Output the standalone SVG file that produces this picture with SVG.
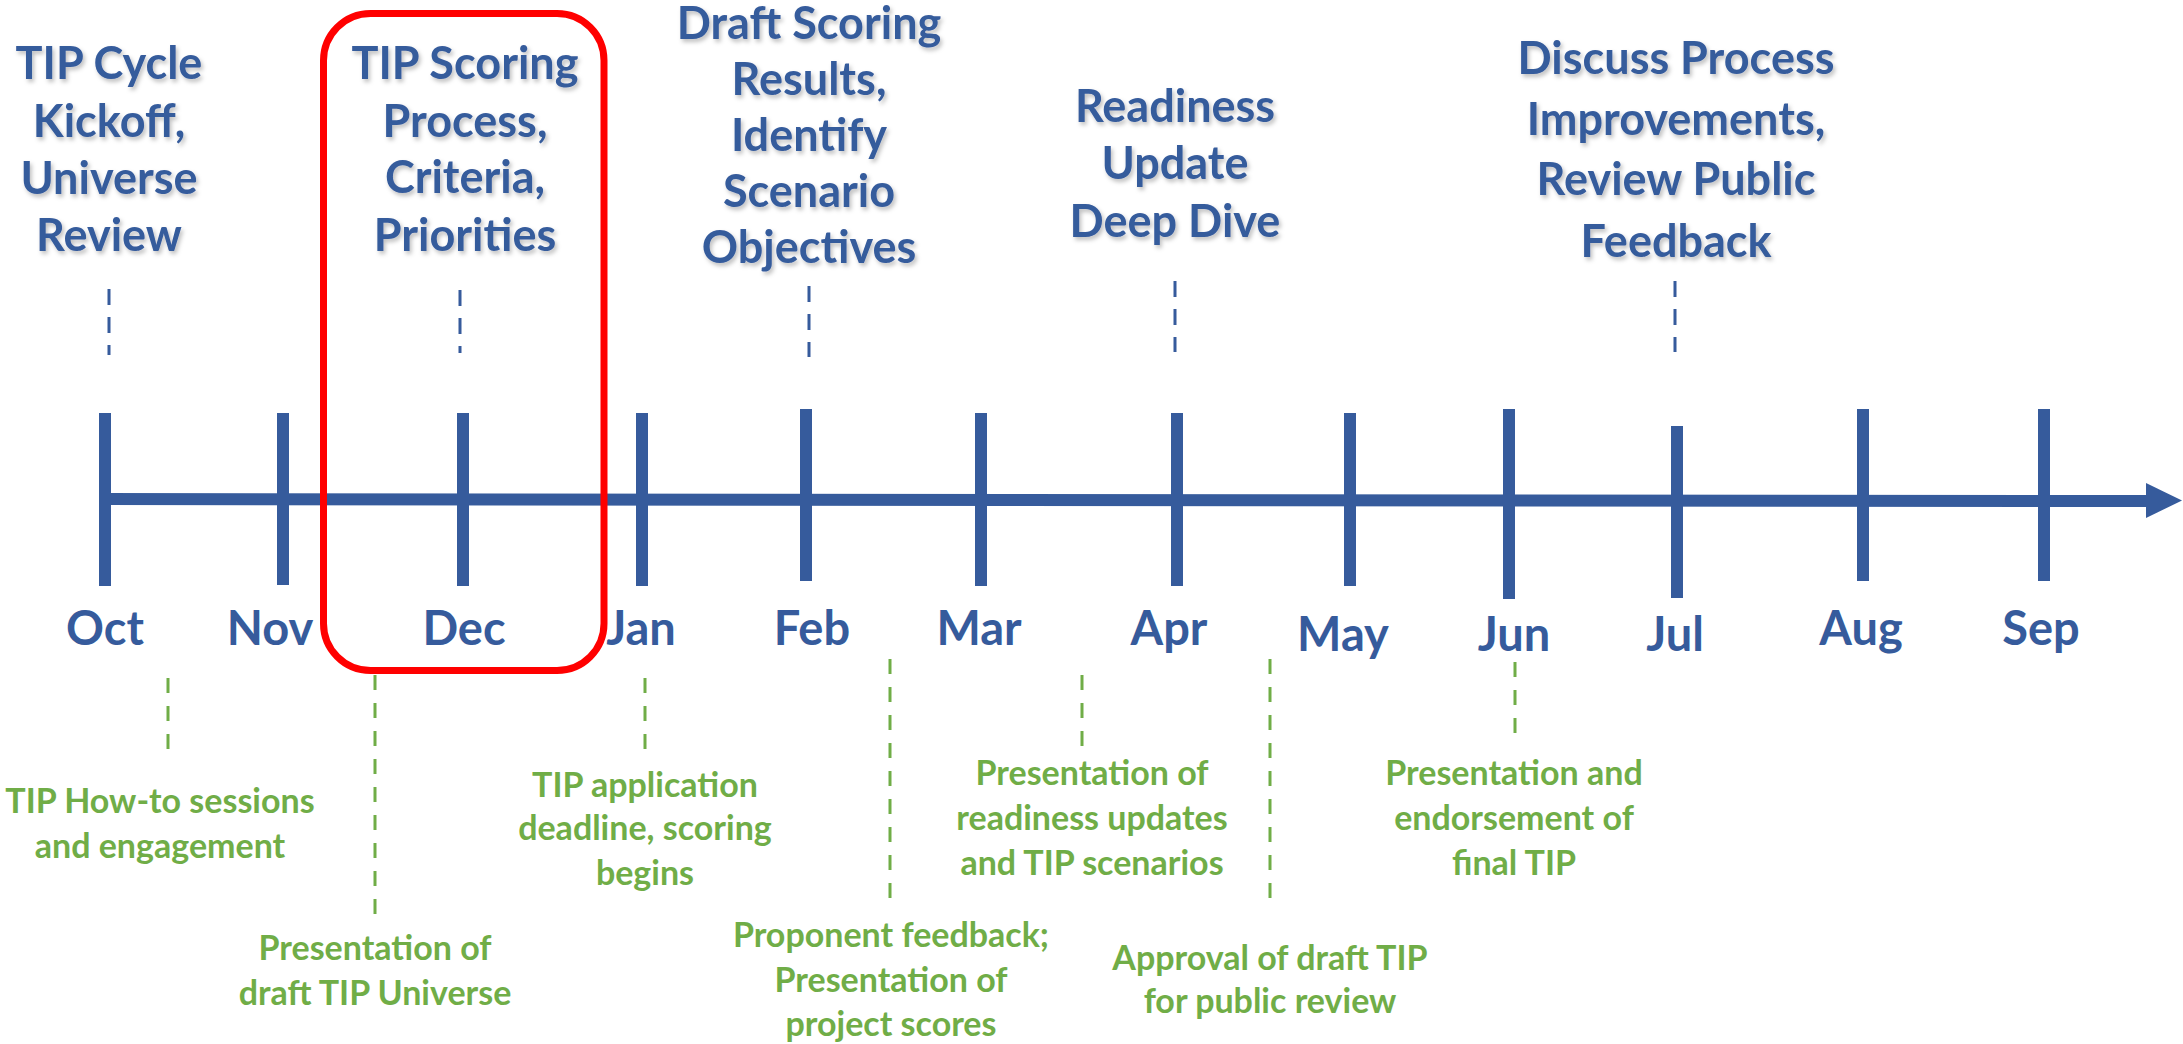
<svg xmlns="http://www.w3.org/2000/svg" width="2183" height="1044" viewBox="0 0 2183 1044">
<style>
  .hd { font-family: Lato, "Noto Sans", "Liberation Sans", sans-serif; font-weight: 700; font-size: 45px; fill: #365B9C; text-anchor: middle; filter: url(#shadow); }
  .mo { font-family: Lato, "Noto Sans", "Liberation Sans", sans-serif; font-weight: 700; font-size: 47px; fill: #365B9C; text-anchor: middle; }
  .gr { font-family: Lato, "Noto Sans", "Liberation Sans", sans-serif; font-weight: 700; font-size: 34px; fill: #70AD47; text-anchor: middle; }
  .tick { fill: #365B9C; }
  .bd { stroke: #365B9C; stroke-width: 3; stroke-dasharray: 16 12; fill: none; }
  .gd { stroke: #70AD47; stroke-width: 3; stroke-dasharray: 15 13; fill: none; }
</style>
<defs>
  <filter id="shadow" x="-10%" y="-20%" width="120%" height="150%">
    <feDropShadow dx="2" dy="3" stdDeviation="2" flood-color="#000" flood-opacity="0.25"/>
  </filter>
</defs>
<rect width="2183" height="1044" fill="#fff"/>

<g id="timeline">
  <polygon class="tick" points="104,493 2150,495 2150,507 104,505"/>
  <polygon class="tick" points="2146,483 2182,500.5 2146,518"/>
  <rect class="tick" x="99" y="413" width="12" height="173"/>
  <rect class="tick" x="277" y="413" width="12" height="172"/>
  <rect class="tick" x="457" y="413" width="12" height="173"/>
  <rect class="tick" x="636" y="413" width="12" height="173"/>
  <rect class="tick" x="800" y="409" width="12" height="172"/>
  <rect class="tick" x="975" y="413" width="12" height="173"/>
  <rect class="tick" x="1171" y="413" width="12" height="173"/>
  <rect class="tick" x="1344" y="413" width="12" height="173"/>
  <rect class="tick" x="1503" y="409" width="12" height="190"/>
  <rect class="tick" x="1671" y="426" width="12" height="172"/>
  <rect class="tick" x="1857" y="409" width="12" height="172"/>
  <rect class="tick" x="2038" y="409" width="12" height="172"/>
</g>

<g id="months">
  <text class="mo" x="105" y="645">Oct</text>
  <text class="mo" x="270" y="645">Nov</text>
  <text class="mo" x="464" y="645">Dec</text>
  <text class="mo" x="641" y="645">Jan</text>
  <text class="mo" x="812" y="645">Feb</text>
  <text class="mo" x="979" y="645">Mar</text>
  <text class="mo" x="1169" y="645">Apr</text>
  <text class="mo" x="1343" y="651">May</text>
  <text class="mo" x="1514" y="651">Jun</text>
  <text class="mo" x="1675" y="651">Jul</text>
  <text class="mo" x="1861" y="645">Aug</text>
  <text class="mo" x="2041" y="645">Sep</text>
</g>

<g id="highlight">
  <rect x="323.5" y="13.5" width="280.5" height="657" rx="47" ry="47" fill="none" stroke="#FF0000" stroke-width="7"/>
</g>

<g id="connectors">
  <line class="bd" x1="109" y1="289" x2="109" y2="355"/>
  <line class="bd" x1="460" y1="290" x2="460" y2="353"/>
  <line class="bd" x1="809" y1="286" x2="809" y2="357"/>
  <line class="bd" x1="1175" y1="281" x2="1175" y2="352"/>
  <line class="bd" x1="1675" y1="281" x2="1675" y2="352"/>
  <line class="gd" x1="168" y1="678" x2="168" y2="750"/>
  <line class="gd" x1="375" y1="675" x2="375" y2="916"/>
  <line class="gd" x1="645" y1="678" x2="645" y2="750"/>
  <line class="gd" x1="890" y1="659" x2="890" y2="898"/>
  <line class="gd" x1="1082" y1="675" x2="1082" y2="747"/>
  <line class="gd" x1="1270" y1="659" x2="1270" y2="898"/>
  <line class="gd" x1="1515" y1="662" x2="1515" y2="733"/>
</g>

<g id="kickoff">
  <text class="hd" x="109" y="79">TIP Cycle</text>
  <text class="hd" x="109" y="137">Kickoff,</text>
  <text class="hd" x="109" y="194">Universe</text>
  <text class="hd" x="109" y="251">Review</text>
</g>
<g id="scoring-process">
  <text class="hd" x="465" y="79">TIP Scoring</text>
  <text class="hd" x="465" y="137">Process,</text>
  <text class="hd" x="465" y="193">Criteria,</text>
  <text class="hd" x="465" y="251">Priorities</text>
</g>
<g id="draft-scoring">
  <text class="hd" x="809" y="39">Draft Scoring</text>
  <text class="hd" x="809" y="95">Results,</text>
  <text class="hd" x="809" y="151">Identify</text>
  <text class="hd" x="809" y="207">Scenario</text>
  <text class="hd" x="809" y="263">Objectives</text>
</g>
<g id="readiness">
  <text class="hd" x="1175" y="122">Readiness</text>
  <text class="hd" x="1175" y="179">Update</text>
  <text class="hd" x="1175" y="237">Deep Dive</text>
</g>
<g id="discuss">
  <text class="hd" x="1676" y="74">Discuss Process</text>
  <text class="hd" x="1676" y="135">Improvements,</text>
  <text class="hd" x="1676" y="195">Review Public</text>
  <text class="hd" x="1676" y="257">Feedback</text>
</g>

<g id="howto">
  <text class="gr" x="160" y="813">TIP How-to sessions</text>
  <text class="gr" x="160" y="858">and engagement</text>
</g>
<g id="draft-universe">
  <text class="gr" x="375" y="960">Presentation of</text>
  <text class="gr" x="375" y="1005">draft TIP Universe</text>
</g>
<g id="deadline">
  <text class="gr" x="645" y="797">TIP application</text>
  <text class="gr" x="645" y="840">deadline, scoring</text>
  <text class="gr" x="645" y="885">begins</text>
</g>
<g id="proponent">
  <text class="gr" x="891" y="947">Proponent feedback;</text>
  <text class="gr" x="891" y="992">Presentation of</text>
  <text class="gr" x="891" y="1036">project scores</text>
</g>
<g id="readiness-updates">
  <text class="gr" x="1092" y="785">Presentation of</text>
  <text class="gr" x="1092" y="830">readiness updates</text>
  <text class="gr" x="1092" y="875">and TIP scenarios</text>
</g>
<g id="approval">
  <text class="gr" x="1270" y="970">Approval of draft TIP</text>
  <text class="gr" x="1270" y="1013">for public review</text>
</g>
<g id="endorsement">
  <text class="gr" x="1514" y="785">Presentation and</text>
  <text class="gr" x="1514" y="830">endorsement of</text>
  <text class="gr" x="1514" y="875">final TIP</text>
</g>
</svg>
